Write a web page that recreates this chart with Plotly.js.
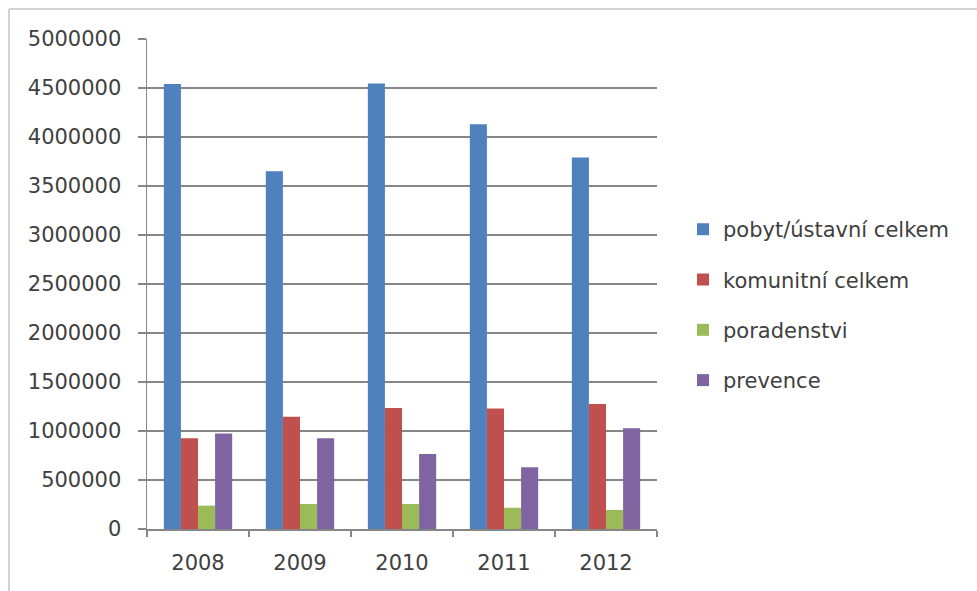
<!DOCTYPE html>
<html><head><meta charset="utf-8">
<script src="https://cdn.plot.ly/plotly-3.0.1.min.js"></script>
<style>body{margin:0;background:#fff}#chart{width:977px;height:591px}</style>
</head><body><div id="chart"></div>
<script>
const years = ['2008', '2009', '2010', '2011', '2012'];
const seriesNames = ['pobyt/ústavní celkem', 'komunitní celkem', 'poradenstvi', 'prevence'];
const pobyt = [4540000, 3650000, 4545000, 4130000, 3790000];
const komunitni = [925000, 1145000, 1235000, 1230000, 1275000];
const poradenstvi = [238000, 255000, 255000, 217000, 194000];
const prevence = [975000, 925000, 765000, 630000, 1028000];
const colors = ['#4F81BD', '#C0504D', '#9BBB59', '#8064A2'];
const values = [pobyt, komunitni, poradenstvi, prevence];

const traces = values.map((v, i) => ({
  type: 'bar', name: seriesNames[i], x: years, y: v, legendgroup: 'g' + i,
  marker: {color: colors[i], line: {width: 0}}
}));

const fontFam = 'DejaVu Sans, sans-serif';
const layout = {
  width: 977, height: 591,
  margin: {l: 147, r: 320, t: 39, b: 62},
  paper_bgcolor: '#fff', plot_bgcolor: '#fff',
  barmode: 'group', bargap: 0.33, bargroupgap: 0,
  showlegend: true,
  legend: {x: 1.051, y: 0.457, xanchor: 'left', yanchor: 'middle',
    font: {family: fontFam, size: 21, color: '#404040'},
    tracegroupgap: 20, itemsizing: 'constant', traceorder: 'grouped'},
  font: {family: fontFam, size: 21, color: '#404040'},
  xaxis: {type: 'category', showgrid: false, showline: true, linecolor: '#868686', linewidth: 1.5,
    ticks: 'outside', tickson: 'boundaries', ticklen: 6, tickcolor: '#868686', tickwidth: 1.5,
    ticklabelstandoff: 14, tickfont: {family: fontFam, size: 21, color: '#404040'}},
  yaxis: {range: [0, 5000000], dtick: 500000, tick0: 0, tickformat: 'd',
    showgrid: true, gridcolor: '#868686', gridwidth: 1.5,
    showline: true, linecolor: '#868686', linewidth: 1.5, zeroline: false,
    ticks: 'outside', ticklen: 8, tickcolor: '#868686', tickwidth: 1.5,
    ticklabelstandoff: 12, tickfont: {family: fontFam, size: 21, color: '#404040'}},
  shapes: [{type: 'rect', xref: 'paper', yref: 'paper',
    x0: (9 - 147) / 510, x1: (985 - 147) / 510, y0: (529 - 600) / 490, y1: (529 - 9) / 490,
    line: {color: '#a6a6a6', width: 1}, fillcolor: 'rgba(0,0,0,0)', layer: 'below'}]
};
Plotly.newPlot('chart', traces, layout, {displayModeBar: false, staticPlot: true});
</script></body></html>
